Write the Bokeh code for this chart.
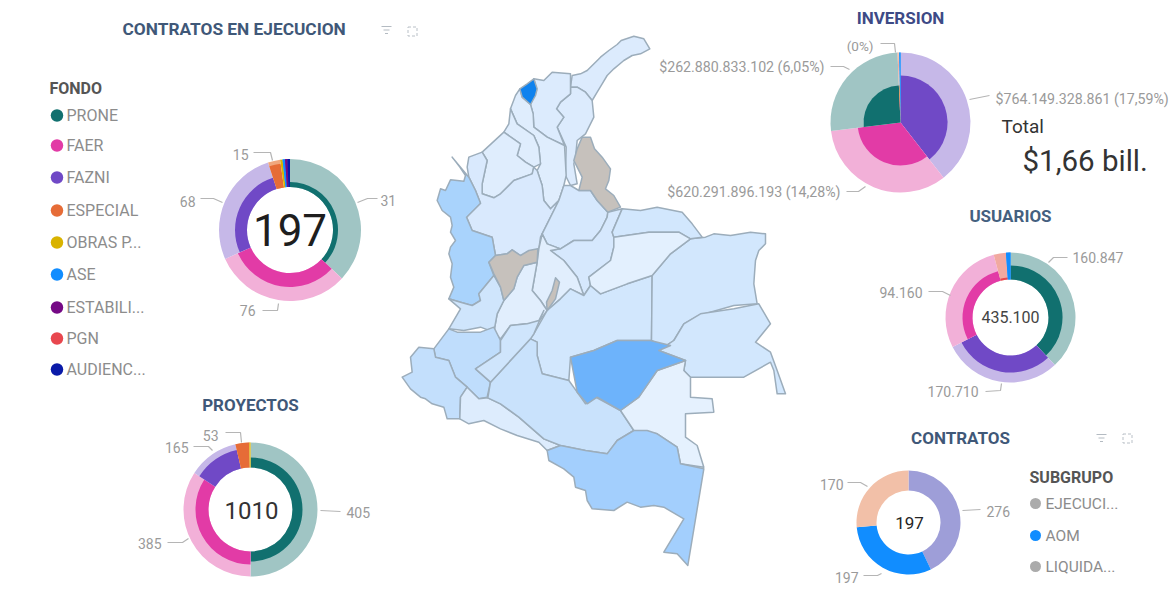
from math import pi
from bokeh.plotting import figure
from bokeh.models import Range1d
from bokeh.core.properties import value
from bokeh.embed import file_html
from bokeh.resources import INLINE

# ---------- data ----------
FUNDS = ["PRONE", "FAER", "FAZNI", "ESPECIAL", "OBRAS P...", "ASE", "ESTABILI...", "PGN", "AUDIENC..."]
FUND_DARK = ["#11706F", "#E23BA6", "#7049C6", "#E66C37", "#D9B300", "#118DFF", "#750985", "#E8474E", "#0A1AA8"]
FUND_PALE = ["#A0C5C4", "#F2B0D8", "#C6B8E8", "#F0A77E", "#F3E3A0", "#118DFF", "#750985", "#F1A9A0", "#0A1AA8"]

EJEC_IDX = [0, 1, 2, 3, 4, 5, 6, 8]
EJEC_SHARE = [133, 113, 96, 10, 2, 2, 2, 2]
EJEC_DEPTH = [48, 57, 55, 67, 71, 71, 71, 71]

PROY_IDX = [0, 1, 2, 3, 4]
PROY_SHARE = [180, 123, 44, 12, 1]
PROY_DEPTH = [52, 55, 61, 67, 67]

INV_IDX = [2, 1, 0, 7, 4, 5]
INV_SHARE = [142, 121, 94.5, 1, 0.5, 1]
INV_DEPTH = [47, 43, 37, 37, 37, 70]

USR_IDX = [0, 2, 1, 7, 5]
USR_SHARE = [137, 106, 102, 11, 4]
USR_DEPTH = [52, 55, 48, 40, 65]

SUB_NAMES = ["EJECUCI...", "AOM", "LIQUIDA..."]
SUB_VALUES = [276, 197, 170]
SUB_COLORS = ["#9E9ED8", "#118DFF", "#F2C0A8"]
SUB_DOTS = ["#ABABAB", "#118DFF", "#ABABAB"]

# Department outlines, traced on a 3x sketch grid of the map (north part)
GUAJIRA = [(515,165),(540,160),(560,150),(585,125),(600,110),(625,90),(650,72),(662,60),(700,47),(730,55),(748,85),(720,100),(695,105),(670,120),(640,145),(620,165),(605,190),(590,215),(575,240),(555,215),(530,200),(510,200)]
CESAR = [(510,200),(530,200),(555,215),(575,240),(580,290),(555,340),(530,360),(525,410),(520,430),(530,490),(510,495),(495,465),(497,380),(470,320),(490,290),(468,265),(480,245),(510,220)]
MAGDALENA = [(455,155),(510,160),(510,200),(510,220),(480,245),(468,265),(490,290),(470,320),(492,375),(440,350),(400,320),(398,280),(390,252),(408,210),(400,175),(430,180)]
ATLANTICO = [(400,175),(410,205),(405,225),(390,252),(365,230),(358,205),(380,190)]
BOLIVAR = [(358,205),(365,230),(390,252),(398,280),(400,320),(440,350),(492,375),(497,465),(490,495),(475,540),(450,565),(430,540),(425,495),(410,450),(420,430),(415,380),(400,345),(350,310),(330,265),(345,225)]
SUCRE = [(330,265),(350,310),(400,345),(415,380),(420,430),(400,440),(375,425),(350,405),(360,370),(310,335),(325,310)]
CORDOBA = [(310,335),(360,370),(350,405),(375,425),(400,440),(395,460),(340,480),(300,520),(280,532),(245,520),(245,490),(260,420),(245,395)]
ANTIOQUIA = [(400,440),(410,450),(425,495),(430,540),(450,565),(475,540),(440,610),(420,650),(415,685),(360,705),(335,688),(320,700),(285,705),(275,650),(215,630),(198,590),(240,548),(225,510),(205,470),(200,440),(205,410),(245,395),(260,420),(245,490),(245,520),(280,532),(300,520),(340,480),(395,460)]
CHOCO = [(155,410),(178,440),(195,465),(190,482),(150,478),(135,510),(120,505),(110,540),(125,570),(150,590),(155,615),(150,635),(165,660),(150,680),(145,700),(155,730),(150,770),(160,800),(145,835),(180,845),(215,855),(240,840),(235,820),(280,765),(265,725),(285,705),(275,650),(215,630),(198,590),(240,548),(225,510),(205,470)]
EJE_CAFETERO = [(285,705),(320,700),(335,688),(360,705),(385,690),(412,685),(410,725),(370,735),(350,770),(340,805),(310,840),(300,800),(280,760),(265,725)]
NORTE_SANTANDER = [(545,350),(570,350),(582,385),(605,410),(630,445),(625,480),(615,505),(640,525),(660,560),(622,575),(590,540),(570,510),(535,510),(545,470),(530,440),(520,420),(530,385)]
TOLIMA = [(350,770),(370,735),(410,725),(395,810),(420,840),(440,870),(410,910),(375,910),(330,915),(300,955),(280,935),(290,880),(310,840),(340,805)]
VALLE = [(235,820),(280,765),(300,800),(310,840),(290,880),(280,935),(240,920),(190,930),(145,925),(180,865),(145,835),(180,845),(215,855),(240,840)]
SANTANDER = [(490,495),(510,495),(535,510),(570,510),(590,540),(622,575),(620,590),(600,630),(575,660),(520,660),(480,685),(440,670),(425,640),(440,610),(475,540)]
BOYACA = [(622,575),(665,565),(635,635),(640,650),(640,680),(630,720),(565,770),(570,795),(550,825),(530,770),(490,720),(450,690),(480,685),(520,660),(575,660),(600,630),(620,590)]
CUNDINAMARCA = [(415,685),(425,640),(440,670),(480,685),(450,690),(490,720),(530,770),(550,825),(510,805),(480,835),(440,870),(420,840),(395,810),(410,725)]
CAUCA_N = [(465,772),(477,785),(465,835),(440,870),(438,845),(455,810)]
META = [(440,870),(480,835),(510,805),(550,825),(570,795),(600,820),(680,790),(755,765),(753,960),(650,960),(580,990),(510,1010),(505,1080),(425,1060),(410,1005),(410,965),(390,955),(400,940)]
VICHADA = [(755,765),(810,700),(870,655),(915,650),(940,640),(990,645),(1050,635),(1095,640),(1095,670),(1075,690),(1065,720),(1062,760),(1060,790),(1070,850),(1000,855),(895,885),(850,910),(820,960),(790,980),(753,960)]
ARAUCA = [(665,565),(720,570),(770,560),(845,575),(875,610),(905,650),(870,655),(835,635),(745,635),(640,650),(635,635)]
CASANARE = [(640,650),(745,635),(835,635),(870,655),(810,700),(755,765),(680,790),(600,820),(570,795),(565,770),(630,720),(640,680)]

# south part, same grid one crop lower
CAUCA = [(145,115),(170,125),(205,125),(240,125),(280,110),(300,150),(300,185),(225,235),(270,275),(260,320),(235,325),(200,290),(165,260),(145,210),(105,200),(100,175)]
NARINO = [(100,175),(105,200),(145,210),(165,260),(200,290),(180,320),(178,385),(140,385),(130,350),(95,340),(75,325),(60,320),(30,295),(5,260),(35,245),(30,200),(55,170)]
PUTUMAYO = [(200,290),(235,325),(262,322),(300,340),(355,380),(430,445),(480,465),(440,480),(415,455),(350,435),(300,415),(250,390),(205,400),(178,385),(180,320)]
CAQUETA = [(390,145),(410,155),(410,195),(425,250),(505,270),(530,305),(555,340),(585,320),(660,360),(700,420),(650,450),(620,490),(555,480),(480,465),(430,445),(355,380),(300,340),(262,322),(270,275)]
HUILA = [(300,150),(330,105),(380,100),(415,90),(430,60),(400,130),(390,145),(270,275),(225,235),(300,185)]
GUAVIARE = [(510,200),(580,180),(650,150),(750,150),(810,165),(775,180),(855,210),(770,240),(715,320),(660,360),(590,320),(560,340),(530,305)]
GUAINIA = [(790,170),(820,150),(850,100),(900,70),(1000,55),(1075,40),(1110,100),(1065,155),(1110,185),(1130,240),(1155,310),(1130,310),(1120,240),(1110,215),(1030,260),(870,260),(850,240),(855,210),(775,180)]
VAUPES = [(855,210),(850,240),(870,260),(870,320),(935,325),(940,365),(855,370),(855,440),(890,465),(910,530),(840,520),(830,470),(770,430),(700,420),(660,360),(715,320),(770,240)]
AMAZONAS = [(700,420),(740,420),(770,430),(830,470),(840,520),(910,535),(862,825),(830,790),(790,785),(850,685),(790,650),(760,645),(720,650),(680,635),(640,660),(575,655),(560,630),(555,600),(525,590),(520,560),(490,535),(445,510),(440,480),(480,465),(555,480),(620,490),(650,450)]

NORTH = [(GUAJIRA,"#DCEBFD"),(CESAR,"#DCEBFD"),(MAGDALENA,"#DCEBFD"),(BOLIVAR,"#DFEDFD"),(SUCRE,"#DFEDFD"),
         (CORDOBA,"#DFEDFD"),(ANTIOQUIA,"#D9E9FD"),(CHOCO,"#A9D3FC"),(SANTANDER,"#D6E8FD"),(BOYACA,"#D6E8FD"),
         (NORTE_SANTANDER,"#C6C1BC"),(CUNDINAMARCA,"#E1EEFD"),(TOLIMA,"#E1EEFD"),(VALLE,"#CFE5FC"),
         (META,"#D2E7FD"),(VICHADA,"#D2E7FD"),(ARAUCA,"#D2E7FD"),(CASANARE,"#E3F0FE"),
         (EJE_CAFETERO,"#C6C1BC"),(CAUCA_N,"#C6C1BC"),(ATLANTICO,"#0F82EE")]
SOUTH = [(CAUCA,"#BFDDFC"),(NARINO,"#C3DFFC"),(PUTUMAYO,"#DDECFD"),(CAQUETA,"#C9E2FC"),(HUILA,"#CFE5FC"),
         (GUAINIA,"#D2E7FD"),(VAUPES,"#E5F1FE"),(AMAZONAS,"#A3CFFD"),(GUAVIARE,"#6DB3FB")]

# ---------- figure ----------
W, H = 1169, 592
p = figure(width=W, height=H, output_backend="svg", toolbar_location=None,
           x_range=Range1d(0, W), y_range=Range1d(592 - H, 592),
           min_border=0, outline_line_color=None, background_fill_color="#FFFFFF",
           x_axis_location=None, y_axis_location=None)
p.grid.visible = False
FONT = value("Roboto")
Y = lambda py: 592 - py

def txt(s, x, y, size, color, align="left", style="normal"):
    p.text([x], [Y(y)], text=[s], text_font=FONT, text_font_size=f"{size}px", text_color=color,
           text_align=align, text_baseline="middle", text_font_style=style)

def donut(cx, cy, hole, outer, shares, pale, dark=None, depths=None):
    total = sum(shares)
    th = 0.0
    for i, s in enumerate(shares):
        a0 = pi / 2 - th / total * 2 * pi
        a1 = pi / 2 - (th + s) / total * 2 * pi
        p.annular_wedge([cx], [Y(cy)], inner_radius=hole, outer_radius=outer, start_angle=a0, end_angle=a1,
                        direction="clock", fill_color=pale[i], line_color=None)
        if dark is not None:
            p.annular_wedge([cx], [Y(cy)], inner_radius=hole, outer_radius=depths[i], start_angle=a0, end_angle=a1,
                            direction="clock", fill_color=dark[i], line_color=None)
        th += s

def leader(pts):
    p.line([a for a, _ in pts], [Y(b) for _, b in pts], line_color="#B5B5B5", line_width=1.2)

def filter_icon(x, y):
    for i, w in enumerate((5, 3, 1.5)):
        p.line([x - w, x + w], [Y(y + i * 3.5)] * 2, line_color="#B4BBC2", line_width=1)

def expand_icon(x, y):
    p.rect([x], [Y(y)], width=9, height=9, fill_color=None, line_color="#B9C0C7", line_width=1, line_dash="3 2")

# map
for grp, dy in ((NORTH, 0), (SOUTH, 810)):
    for poly, col in grp:
        p.patch([400 + a / 3 for a, _ in poly], [Y(20 + (b + dy) / 3) for _, b in poly],
                fill_color=col, line_color="#9CADBB", line_width=1.5, line_join="round")

# titles
TITLE = "#3F5878"
txt("CONTRATOS EN EJECUCION", 122, 28, 17.3, TITLE, style="bold")
txt("PROYECTOS", 250, 404, 17, TITLE, "center", "bold")
txt("INVERSION", 900, 17, 17, "#3D4A86", "center", "bold")
txt("USUARIOS", 1010, 215, 17, "#44607F", "center", "bold")
txt("CONTRATOS", 960, 437, 17, TITLE, "center", "bold")
filter_icon(386, 26); expand_icon(412, 31); filter_icon(1101, 434); expand_icon(1127, 438)

# legend
txt("FONDO", 49, 88, 16, "#555555", style="bold")
LEG_Y = [115, 145, 177, 210, 242, 274, 307, 338, 369]
p.scatter([56.5] * 9, [Y(v) for v in LEG_Y], size=12.5, fill_color=FUND_DARK, line_color=None)
for name, v in zip(FUNDS, LEG_Y):
    txt(name, 66, v, 16, "#8C8C8C")

txt("SUBGRUPO", 1029, 477, 16, "#555555", style="bold")
SUB_Y = [503, 535, 566]
p.scatter([1035] * 3, [Y(v) for v in SUB_Y], size=11, fill_color=SUB_DOTS, line_color=None)
for name, v in zip(SUB_NAMES, SUB_Y):
    txt(name, 1045, v, 15.5, "#8C8C8C")

# donuts
donut(289.5, 229.5, 43, 71, EJEC_SHARE, [FUND_PALE[i] for i in EJEC_IDX], [FUND_DARK[i] for i in EJEC_IDX], EJEC_DEPTH)
donut(250, 509, 42, 67, PROY_SHARE, [FUND_PALE[i] for i in PROY_IDX], [FUND_DARK[i] for i in PROY_IDX], PROY_DEPTH)
donut(900, 122, 0, 70, INV_SHARE, [FUND_PALE[i] for i in INV_IDX], [FUND_DARK[i] for i in INV_IDX], INV_DEPTH)
donut(1010, 317, 38, 65, USR_SHARE, [FUND_PALE[i] for i in USR_IDX], [FUND_DARK[i] for i in USR_IDX], USR_DEPTH)
donut(908, 522, 32, 52, SUB_VALUES, SUB_COLORS)

# centre values
txt("197", 289.5, 229, 44, "#1E1E1E", "center")
txt("1010", 251, 510, 24, "#333333", "center")
txt("435.100", 1010, 316, 16, "#444444", "center")
txt("197", 909, 522, 17, "#252525", "center")
txt("Total", 1001, 126, 19, "#333333")
txt("$1,66 bill.", 1022, 160, 29.5, "#333333")

# data labels
LBL = "#9A9A9A"
S = 14
txt("15", 248, 154, S, LBL, "right"); leader([(253,152),(270,152),(272,160)])
txt("68", 195, 201, S, LBL, "right"); leader([(200,198),(213,198),(222,202)])
txt("31", 380, 200, S, LBL); leader([(357,202),(367,198),(377,198)])
txt("76", 255, 310, S, LBL, "right"); leader([(262,310),(277,310),(278,303)])
txt("53", 218, 435, S, LBL, "right"); leader([(225,432),(240,432),(241,442)])
txt("165", 188, 447, S, LBL, "right"); leader([(193,446),(208,446),(212,450)])
txt("385", 161, 543, S, LBL, "right"); leader([(167,542),(182,542),(188,538)])
txt("405", 346, 512, S, LBL); leader([(320,510),(340,511)])
txt("(0%)", 873, 45, 13.5, LBL, "right"); leader([(880,43),(894,43),(895,52)])
txt("$262.880.833.102 (6,05%)", 824, 66, 14.2, LBL, "right"); leader([(830,66),(843,66),(849,69)])
txt("$620.291.896.193 (14,28%)", 840, 191, 14.2, LBL, "right"); leader([(846,191),(858,191),(865,186)])
txt("$764.149.328.861 (17,59%)", 995, 98, 14.2, LBL); leader([(969,99),(989,95)])
txt("160.847", 1072, 257, S, LBL); leader([(1048,262),(1053,257),(1067,257)])
txt("94.160", 922, 292, S, LBL, "right"); leader([(928,291),(942,291),(950,295)])
txt("170.710", 978, 391, S, LBL, "right"); leader([(985,391),(1000,390),(1001,383)])
txt("276", 986, 511, S, LBL); leader([(962,510),(980,509)])
txt("170", 843, 484, S, LBL, "right"); leader([(847,482),(860,482),(867,486)])
txt("197", 858, 577, S, LBL, "right"); leader([(863,575),(877,575),(881,573)])

open("out.html", "w").write(file_html(p, INLINE))
